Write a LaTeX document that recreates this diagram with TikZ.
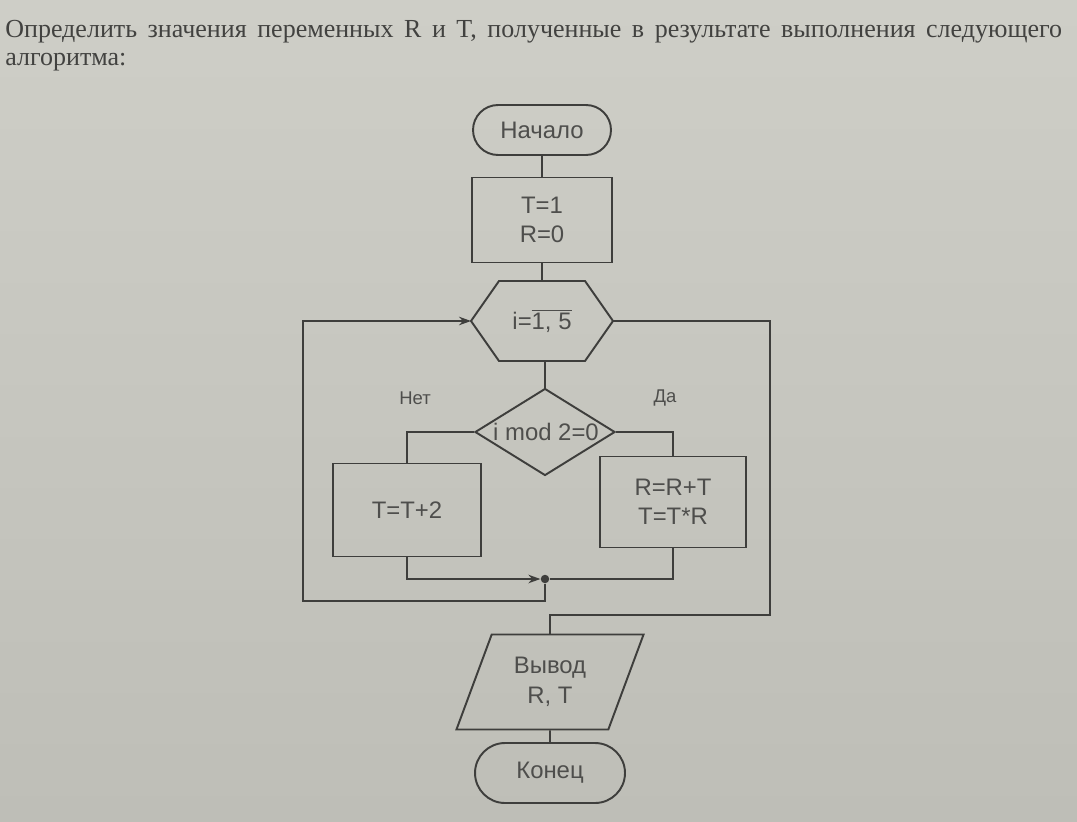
\documentclass[tikz,border=0pt]{standalone}
\usepackage{fontspec}
\setmainfont{Liberation Serif}
\newfontfamily\diagfont{Liberation Sans}
\usetikzlibrary{shapes.geometric,arrows.meta}
\definecolor{papertop}{RGB}{206,206,199}
\definecolor{paperbot}{RGB}{190,190,183}
\definecolor{ink}{RGB}{62,62,60}
\definecolor{txt}{RGB}{78,78,76}
\definecolor{titletxt}{RGB}{66,66,64}
\begin{document}
\begin{tikzpicture}[x=0.02cm,y=-0.02cm,
  line/.style={draw=ink, line width=1.1pt},
  dtext/.style={font=\diagfont\fontsize{13.6}{16.8}\selectfont, text=txt, align=center},
  term/.style={line, dtext, inner sep=0},
  proc/.style={line, dtext, rectangle, inner sep=0},
  lbl/.style={font=\diagfont\fontsize{10.5}{12}\selectfont, text=txt, inner sep=0},
  arr/.style={-{Stealth[length=0.24cm,width=0.17cm]}},
  ttl/.style={anchor=base west, inner sep=0, text=titletxt, font=\fontsize{14.8}{18}\selectfont}]
\shade[top color=papertop, bottom color=paperbot] (0,0) rectangle (1077,821);
\useasboundingbox (0,0) rectangle (1077,821);

% title
\node[ttl] (t1) at (5,38) {\makebox[21.14cm][s]{Определить значения переменных R и T, полученные в результате выполнения следующего}};
\node[ttl] (t2) at (5,66) {алгоритма:};

% start
\node[term, minimum width=2.76cm, minimum height=1.0cm, rounded corners=0.5cm] (start) at (542,130) {Начало};
% init
\node[proc, minimum width=2.8cm, minimum height=1.7cm] (init) at (542,220) {T=1\\R=0};
% loop hexagon
\coordinate (hl) at (471,321);
\coordinate (hr) at (613,321);
\coordinate (ht) at (542,281);
\coordinate (hb) at (545,361);
\draw[line] (hl) -- (499,281) -- (585,281) -- (hr) -- (585,361) -- (499,361) -- cycle;
\node[dtext, inner sep=0] (looptext) at (542,321) {i=$\overline{\mbox{1, 5}}$};
% condition
\node[line, diamond, minimum width=2.8cm, minimum height=1.74cm, inner sep=0] (cond) at (545,432) {};
\node[dtext, inner sep=0] (condtext) at (546,432) {i mod 2=0};
\node[lbl] (no) at (415,398) {Нет};
\node[lbl] (yes) at (665,398) {Да};
% branches
\node[proc, minimum width=2.96cm, minimum height=1.86cm] (tleft) at (407,510) {T=T+2};
\node[proc, minimum width=2.92cm, minimum height=1.82cm] (tright) at (673,502) {R=R+T\\T=T*R};
\node[circle, fill=ink, inner sep=0, minimum size=0.17cm] (join) at (545,579) {};
\coordinate (lb) at (303,601);
\coordinate (rb) at (770,615);
% output
\node[line, dtext, trapezium, trapezium left angle=66, trapezium right angle=114, trapezium stretches=true, minimum width=3.76cm, minimum height=1.9cm, inner sep=0] (out) at (550,682) {Вывод\\R, T};
% end
\node[term, minimum width=3.0cm, minimum height=1.2cm, rounded corners=0.6cm] (stop) at (550,773) {Конец};

% connectors
\draw[line] (start) -- (init);
\draw[line] (init) -- (ht);
\draw[line] (hb) -- (cond.north);
\draw[line] (cond.west) -| (tleft.north);
\draw[line] (cond.east) -| (tright.north);
\draw[line, arr] (tleft.south) |- (join.west);
\draw[line] (tright.south) |- (join.east);
\draw[line, arr] (join) |- (lb) |- (hl);
\draw[line] (hr) -| (rb) -| (out);
\draw[line] (out) -- (stop);
\end{tikzpicture}
\end{document}
